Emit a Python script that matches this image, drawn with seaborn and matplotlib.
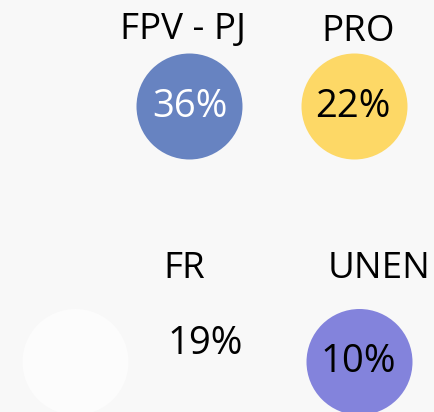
import matplotlib
matplotlib.use("Agg")
import matplotlib.pyplot as plt
import seaborn as sns
import pandas as pd

# parties and their share
parties = ["FPV - PJ", "PRO", "FR", "UNEN"]
shares = [36, 22, 19, 10]
colors = ["#6783c1", "#fdd866", "#fcfcfc", "#8383dc"]
value_colors = ["white", "black", "black", "black"]

# layout in pixel coordinates (circle centre, label centre, value centre)
circle_xy = [(189.5, 106.5), (354.5, 106.5), (75.5, 362), (359.5, 362)]
label_xy = [(183, 30), (358, 32), (184, 269), (379, 269)]
value_xy = [(190, 106.5), (353, 106.5), (205.5, 344.5), (358, 362.5)]

sns.set_theme(style="white")
plt.rcParams["font.family"] = ["Open Sans", "DejaVu Sans"]

fig = plt.figure(figsize=(4.34, 4.12), dpi=100, facecolor="#f8f8f8")
ax = fig.add_axes([0, 0, 1, 1])
ax.set_facecolor("#f8f8f8")

df = pd.DataFrame({
    "party": parties,
    "share": shares,
    "x": [p[0] for p in circle_xy],
    "y": [p[1] for p in circle_xy],
})

radius_pt = 53 * 72 / 100
sns.scatterplot(
    data=df, x="x", y="y", hue="party", palette=dict(zip(parties, colors)),
    s=(2 * radius_pt) ** 2, linewidth=0, legend=False, ax=ax,
)

for i, party in enumerate(parties):
    ax.text(*label_xy[i], party, ha="center", va="center", fontsize=26.5, color="black")
    ax.text(*value_xy[i], f"{shares[i]}%", ha="center", va="center", fontsize=27.5,
            color=value_colors[i])

ax.set_xlim(0, 434)
ax.set_ylim(412, 0)
ax.set_axis_off()

fig.savefig("out.png", dpi=100, facecolor=fig.get_facecolor())
